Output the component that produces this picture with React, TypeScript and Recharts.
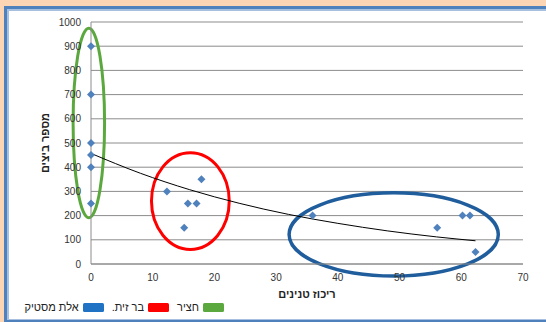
import React from "react";
import {
  ComposedChart,
  Scatter,
  Line,
  XAxis,
  YAxis,
  CartesianGrid,
  ReferenceArea,
  Legend,
  Label,
} from "recharts";

// tannin concentration (x) vs. egg count (y), grouped by food plant
const HAY_X = [0, 0, 0, 0, 0, 0];
const HAY_Y = [900, 700, 500, 450, 400, 250];
const OLIVE_X = [12.3, 15.7, 17.1, 17.9, 15.1];
const OLIVE_Y = [300, 250, 250, 350, 150];
const MASTIC_X = [35.9, 56.1, 60.2, 61.4, 62.3];
const MASTIC_Y = [200, 150, 200, 200, 50];

// exponential trendline
const TREND_X = [0, 8, 16, 24, 32, 40, 48, 56, 62.3];
const TREND_Y = [457, 375, 307, 251, 205, 168, 137, 112, 96];

const X_TICKS = [0, 10, 20, 30, 40, 50, 60, 70];
const Y_TICKS = [0, 100, 200, 300, 400, 500, 600, 700, 800, 900, 1000];

// group rings: extents in axis units
const RING_X1 = [-2.9, 9.8, 32.1];
const RING_X2 = [2.2, 22.4, 66.0];
const RING_Y1 = [191, 60, -50];
const RING_Y2 = [974, 460, 294];
const RING_COLORS = ["#5BA83E", "#FF0000", "#1F5D9C"];
const RING_WIDTHS = [3, 3, 3.5];

const LEGEND_NAMES = ["חציר", "בר זית.", "אלת מסטיק"];
const LEGEND_COLORS = ["#5BA83E", "#FF0000", "#1F72C4"];

const X_TITLE = "ריכוז טנינים";
const Y_TITLE = "מספר ביצים";

const FONT = "'Liberation Sans', Arial, 'DejaVu Sans', sans-serif";
const POINT_COLOR = "#4F81BD";

const zip = (xs: number[], ys: number[]) => xs.map((x, i) => ({ x, y: ys[i] }));

const points = [
  ...zip(HAY_X, HAY_Y),
  ...zip(OLIVE_X, OLIVE_Y),
  ...zip(MASTIC_X, MASTIC_Y),
];
const trend = zip(TREND_X, TREND_Y);

function Diamond(props: any) {
  const { cx, cy } = props;
  if (cx == null || cy == null) return null;
  const r = 4;
  return (
    <path
      d={`M${cx},${cy - r}L${cx + r},${cy}L${cx},${cy + r}L${cx - r},${cy}Z`}
      fill={POINT_COLOR}
    />
  );
}

function ringShape(color: string, width: number) {
  return (props: any) => {
    const { x, y, width: w, height: h } = props;
    const rx = Math.abs(w) / 2;
    const ry = Math.abs(h) / 2;
    const cx = Math.min(x, x + w) + rx;
    const cy = Math.min(y, y + h) + ry;
    return (
      <ellipse cx={cx} cy={cy} rx={rx} ry={ry} fill="none" stroke={color} strokeWidth={width} />
    );
  };
}

function RingLegend() {
  return (
    <div
      dir="rtl"
      style={{
        display: "flex",
        alignItems: "center",
        gap: 8,
        fontFamily: FONT,
        fontSize: 11,
        color: "#222",
        height: 12,
      }}
    >
      {LEGEND_NAMES.map((name, i) => (
        <div key={name} style={{ display: "flex", alignItems: "center", gap: 4 }}>
          <span
            style={{
              display: "inline-block",
              width: 21,
              height: 9,
              background: LEGEND_COLORS[i],
              borderRadius: 1.5,
            }}
          />
          <span style={{ lineHeight: "12px" }}>{name}</span>
        </div>
      ))}
    </div>
  );
}

export default function App() {
  return (
    <div
      style={{
        position: "absolute",
        left: 0,
        top: 0,
        width: 546,
        height: 322,
        background: "#FCD5B5",
        overflow: "hidden",
      }}
    >
      {/* double blue frame */}
      <div
        style={{
          position: "absolute",
          left: 4,
          top: 6,
          width: 600,
          height: 316,
          boxSizing: "border-box",
          borderLeft: "3px solid #4F81BD",
          borderTop: "3px solid #4F81BD",
          borderBottom: "2.5px solid #4F81BD",
          background: "#fff",
        }}
      >
        <div
          style={{
            position: "absolute",
            left: 0,
            top: 0,
            right: 0,
            bottom: 0,
            borderLeft: "2px solid #A7C0DF",
            borderTop: "2px solid #A7C0DF",
            borderBottom: "1.5px solid #A7C0DF",
          }}
        />
      </div>

      <div style={{ position: "absolute", left: 0, top: 0 }}>
        <ComposedChart
          width={546}
          height={322}
          margin={{ top: 22, right: 23, left: 31, bottom: 28 }}
        >
          <CartesianGrid vertical={false} stroke="#8C8C8C" />
          <XAxis
            type="number"
            dataKey="x"
            domain={[0, 70]}
            ticks={X_TICKS}
            height={30}
            tickLine={false}
            tickSize={6}
            tickMargin={4}
            axisLine={{ stroke: "#8C8C8C" }}
            tick={{ fontFamily: FONT, fontSize: 10, fill: "#333" }}
          >
            <Label
              content={(p: any) => {
                const vb = p.viewBox || { x: 91, y: 264, width: 432, height: 30 };
                return (
                  <text
                    x={vb.x + vb.width / 2}
                    y={vb.y + 30}
                    textAnchor="middle"
                    dominantBaseline="central"
                    fontFamily={FONT}
                    fontSize={11}
                    fontWeight="bold"
                    fill="#222"
                  >
                    {X_TITLE}
                  </text>
                );
              }}
            />
          </XAxis>
          <YAxis
            type="number"
            dataKey="y"
            domain={[0, 1000]}
            ticks={Y_TICKS}
            width={60}
            tickLine={false}
            tickSize={6}
            tickMargin={4}
            axisLine={{ stroke: "#8C8C8C" }}
            tick={{ fontFamily: FONT, fontSize: 10, fill: "#333" }}
          >
            <Label
              content={(p: any) => {
                const vb = p.viewBox || { x: 31, y: 22, width: 60, height: 242 };
                const cx = vb.x + 14;
                const cy = vb.y + vb.height / 2;
                return (
                  <text
                    x={cx}
                    y={cy}
                    transform={`rotate(-90, ${cx}, ${cy})`}
                    textAnchor="middle"
                    dominantBaseline="central"
                    fontFamily={FONT}
                    fontSize={11}
                    fontWeight="bold"
                    fill="#222"
                  >
                    {Y_TITLE}
                  </text>
                );
              }}
            />
          </YAxis>

          <Line
            data={trend}
            dataKey="y"
            type="monotone"
            stroke="#000"
            strokeWidth={1}
            dot={false}
            activeDot={false}
            isAnimationActive={false}
          />
          <Scatter
            data={points}
            dataKey="y"
            shape={<Diamond />}
            isAnimationActive={false}
          />

          {RING_COLORS.map((c, i) => (
            <ReferenceArea
              key={c}
              x1={RING_X1[i]}
              x2={RING_X2[i]}
              y1={RING_Y1[i]}
              y2={RING_Y2[i]}
              ifOverflow="visible"
              shape={ringShape(c, RING_WIDTHS[i])}
            />
          ))}

          <Legend
            layout="horizontal"
            verticalAlign="middle"
            align="center"
            content={<RingLegend />}
            wrapperStyle={{ left: 0, top: 301, width: 224, height: 12 }}
          />
        </ComposedChart>
      </div>
    </div>
  );
}
